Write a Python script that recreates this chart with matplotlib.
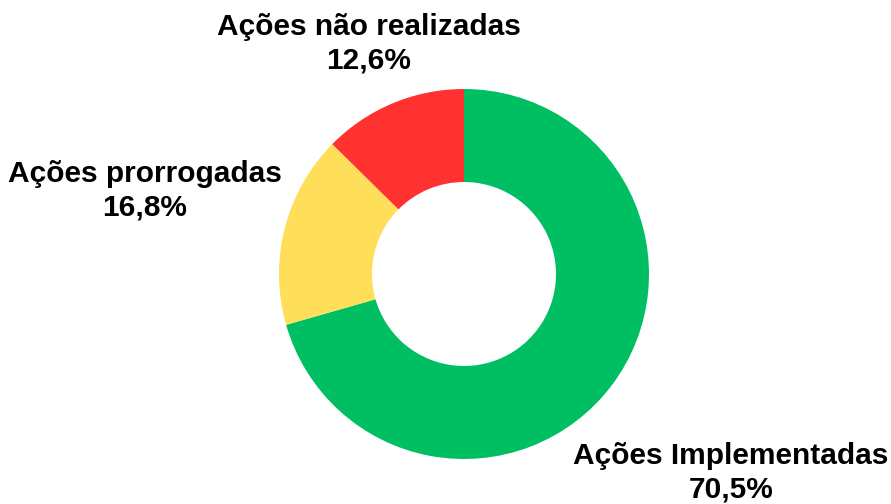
import matplotlib
matplotlib.use("Agg")
import matplotlib.pyplot as plt

labels = ["Ações Implementadas", "Ações prorrogadas", "Ações não realizadas"]
values = [70.5, 16.8, 12.6]
pct_text = ["70,5%", "16,8%", "12,6%"]
colors = ["#00BF63", "#FFDE59", "#FF3131"]

plt.rcParams['font.family'] = ['Liberation Sans', 'DejaVu Sans']

fig = plt.figure(figsize=(8.91, 5.04), dpi=100)
ax = fig.add_axes([0, 0, 1, 1])
ax.pie(values, colors=colors, startangle=90, counterclock=False,
       center=(464, 230), radius=185,
       wedgeprops=dict(width=93, linewidth=0))
ax.set_xlim(0, 891)
ax.set_ylim(0, 504)
ax.set_aspect('equal')
ax.axis('off')

# label anchor spots (pixels from top-left of the picture)
spots = [(731, 473), (145, 191), (369, 44)]
for lab, pct, (x, y) in zip(labels, pct_text, spots):
    ax.text(x, 504 - y, lab + "\n" + pct, ha='center', va='center',
            fontsize=21.5, fontweight='bold', color='black', linespacing=1.27)

fig.savefig("out.png", dpi=100)
